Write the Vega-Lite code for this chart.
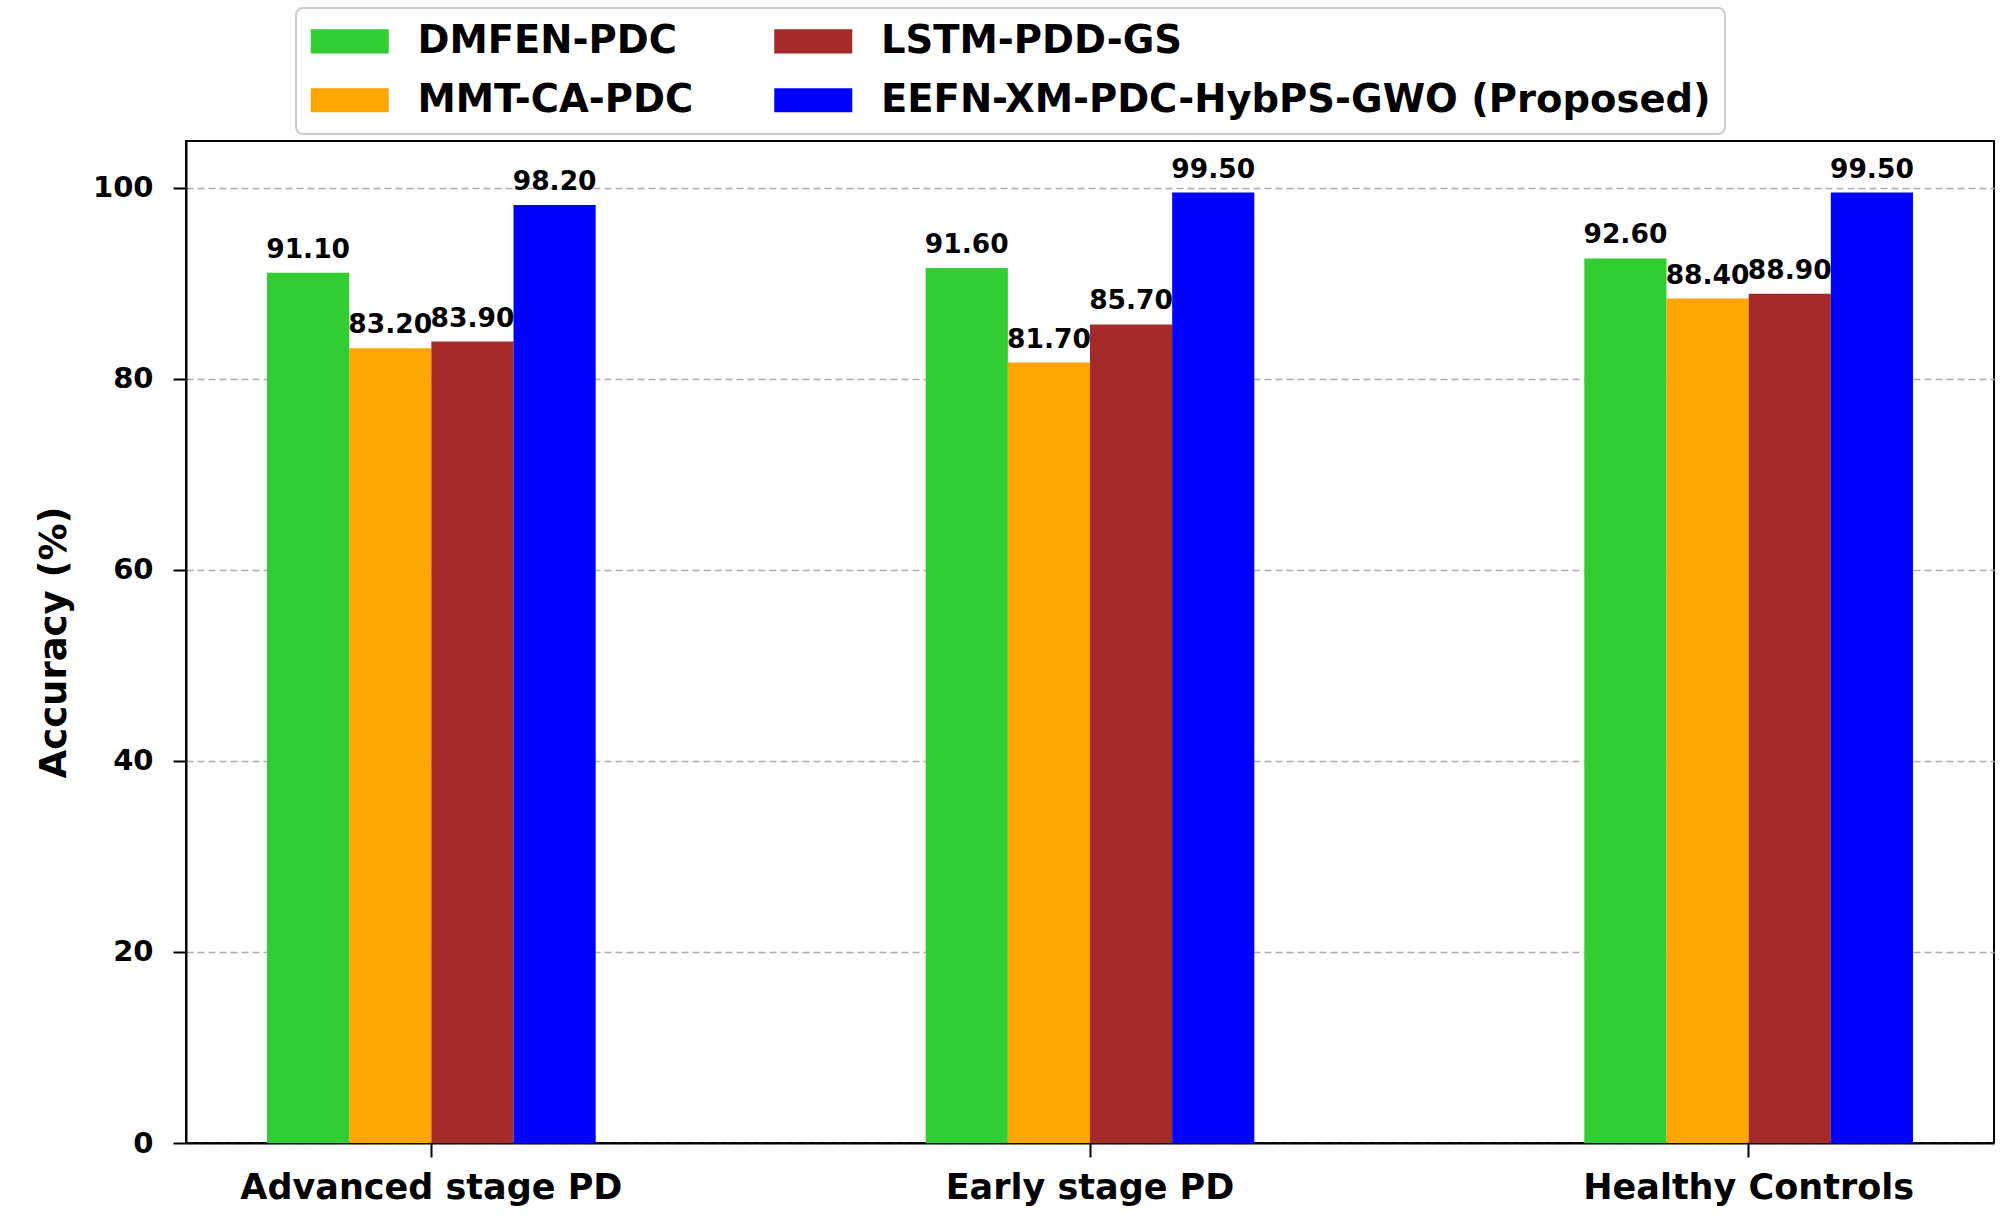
{
  "$schema": "https://vega.github.io/schema/vega-lite/v6.json",
  "width": 1808,
  "height": 1002,
  "autosize": {"type": "none"},
  "padding": {"left": 186, "top": 141, "right": 14, "bottom": 81},
  "background": "white",
  "data": {
    "values": [
      {"group": "Advanced stage PD", "method": "DMFEN-PDC", "accuracy": 91.1},
      {"group": "Advanced stage PD", "method": "MMT-CA-PDC", "accuracy": 83.2},
      {"group": "Advanced stage PD", "method": "LSTM-PDD-GS", "accuracy": 83.9},
      {"group": "Advanced stage PD", "method": "EEFN-XM-PDC-HybPS-GWO (Proposed)", "accuracy": 98.2},
      {"group": "Early stage PD", "method": "DMFEN-PDC", "accuracy": 91.6},
      {"group": "Early stage PD", "method": "MMT-CA-PDC", "accuracy": 81.7},
      {"group": "Early stage PD", "method": "LSTM-PDD-GS", "accuracy": 85.7},
      {"group": "Early stage PD", "method": "EEFN-XM-PDC-HybPS-GWO (Proposed)", "accuracy": 99.5},
      {"group": "Healthy Controls", "method": "DMFEN-PDC", "accuracy": 92.6},
      {"group": "Healthy Controls", "method": "MMT-CA-PDC", "accuracy": 88.4},
      {"group": "Healthy Controls", "method": "LSTM-PDD-GS", "accuracy": 88.9},
      {"group": "Healthy Controls", "method": "EEFN-XM-PDC-HybPS-GWO (Proposed)", "accuracy": 99.5}
    ]
  },
  "encoding": {
    "x": {
      "field": "group",
      "type": "nominal",
      "sort": ["Advanced stage PD", "Early stage PD", "Healthy Controls"],
      "scale": {"paddingInner": 0.501, "paddingOuter": 0.123},
      "axis": {
        "title": null,
        "labelAngle": 0,
        "labelLimit": 1000,
        "labelFont": "DejaVu Sans",
        "labelFontWeight": "bold",
        "labelFontSize": 35,
        "labelColor": "black",
        "tickColor": "black",
        "tickWidth": 2,
        "tickSize": 14,
        "labelPadding": 13,
        "domainColor": "black",
        "domainWidth": 2,
        "grid": false
      }
    },
    "xOffset": {
      "field": "method",
      "type": "nominal",
      "sort": ["DMFEN-PDC", "MMT-CA-PDC", "LSTM-PDD-GS", "EEFN-XM-PDC-HybPS-GWO (Proposed)"],
      "scale": {"paddingInner": 0, "paddingOuter": 0}
    },
    "y": {
      "field": "accuracy",
      "type": "quantitative",
      "scale": {"domain": [0, 104.9], "nice": false, "zero": true},
      "axis": {
        "title": "Accuracy (%)",
        "titleFont": "DejaVu Sans",
        "titleFontWeight": "bold",
        "titleFontSize": 37,
        "titleColor": "black",
        "titleX": -132,
        "titleY": 501,
        "titleBaseline": "middle",
        "titleAngle": -90,
        "values": [0, 20, 40, 60, 80, 100],
        "labelFont": "DejaVu Sans",
        "labelFontWeight": "bold",
        "labelFontSize": 29,
        "labelColor": "black",
        "tickColor": "black",
        "tickWidth": 2,
        "tickSize": 13,
        "labelPadding": 20,
        "domainColor": "black",
        "domainWidth": 2,
        "grid": true,
        "gridColor": "#b0b0b0",
        "gridDash": [7, 4],
        "gridWidth": 1.6
      }
    }
  },
  "layer": [
    {
      "mark": {"type": "bar", "opacity": 1},
      "encoding": {
        "color": {
          "field": "method",
          "type": "nominal",
          "scale": {
            "domain": ["DMFEN-PDC", "LSTM-PDD-GS", "MMT-CA-PDC", "EEFN-XM-PDC-HybPS-GWO (Proposed)"],
            "range": ["#32CD32", "#A52A2A", "#FFA500", "#0000FF"]
          },
          "legend": {
            "title": null,
            "orient": "none",
            "legendX": 110,
            "legendY": -133,
            "direction": "horizontal",
            "columns": 2,
            "columnPadding": 79.5,
            "rowPadding": 20,
            "padding": 14,
            "fillColor": "white",
            "strokeColor": "#cccccc",
            "cornerRadius": 7,
            "labelFont": "DejaVu Sans",
            "labelFontWeight": "bold",
            "labelFontSize": 38.5,
            "labelColor": "black",
            "labelOffset": 48.5,
            "labelLimit": 1200,
            "symbolType": "M-2.108,-0.649H2.108V0.649H-2.108Z",
            "symbolSize": 1369,
            "symbolOffset": 20.5,
            "symbolStrokeWidth": 0,
            "symbolOpacity": 1
          }
        }
      }
    },
    {
      "mark": {
        "type": "text",
        "baseline": "alphabetic",
        "align": "center",
        "dy": -15,
        "font": "DejaVu Sans",
        "fontWeight": "bold",
        "fontSize": 26.5,
        "color": "black"
      },
      "encoding": {
        "text": {"field": "accuracy", "type": "quantitative", "format": ".2f"}
      }
    }
  ],
  "config": {
    "view": {"stroke": "black", "strokeWidth": 2},
    "axis": {"zindex": 0},
    "legend": {"strokeWidth": 2}
  }
}
